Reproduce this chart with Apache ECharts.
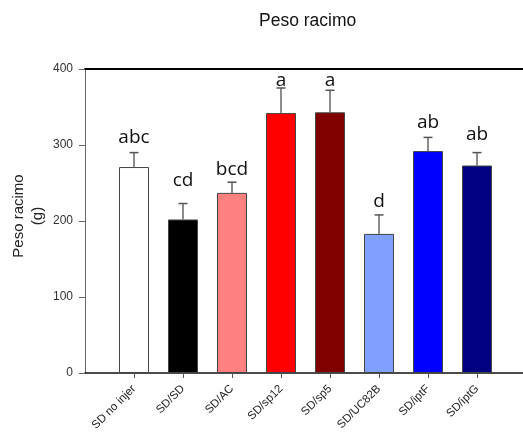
<!DOCTYPE html>
<html>
<head>
<meta charset="utf-8">
<script src="https://cdn.jsdelivr.net/npm/echarts@6/dist/echarts.min.js"></script>
<style>html,body{margin:0;padding:0;background:#fff}#c{width:523px;height:432px}</style>
</head>
<body>
<div id="c"></div>
<script>
var categories = ['SD no injer', 'SD/SD', 'SD/AC', 'SD/sp12', 'SD/sp5', 'SD/UC82B', 'SD/iptF', 'SD/iptG'];
var means = [271, 202, 237, 342, 343, 183, 292, 273];
var errTops = [290, 223, 251, 375, 372, 208, 310, 290];
var letters = ['abc', 'cd', 'bcd', 'a', 'a', 'd', 'ab', 'ab'];
var letterLevels = [310, 253, 268, 385, 385, 225, 330, 314];
var colors = ['#FFFFFF', '#000000', '#FF8080', '#FF0000', '#800000', '#80A0FF', '#0000FF', '#000080'];
var yTicks = [0, 100, 200, 300, 400];
var yTitle = 'Peso racimo\n(g)';

// padded category list: an empty slot before and after
var axisCats = [''].concat(categories, ['']);
var barData = ['-'].concat(means.map(function (v, i) {
  return { value: v, itemStyle: { color: colors[i] } };
}), ['-']);
var errData = errTops.map(function (t, i) { return [i + 1, means[i], t]; });
var labData = letterLevels.map(function (l, i) { return [i + 1, l, letters[i]]; });

var chart = echarts.init(document.getElementById('c'));
chart.setOption({
  animation: false,
  title: {
    text: 'Peso racimo', left: 254, top: 7,
    textStyle: { fontFamily: 'Arial', fontSize: 17.5, fontWeight: 'normal', color: '#111' }
  },
  graphic: [{
    type: 'text', x: 28, y: 216, rotation: Math.PI / 2,
    style: { text: yTitle, align: 'center', verticalAlign: 'middle',
      font: '15px Arial', fill: '#222', lineHeight: 19 }
  }],
  grid: { left: 85, top: 69, width: 441, height: 304, containLabel: false, outerBoundsMode: 'none' },
  xAxis: [{
    type: 'category', data: axisCats, boundaryGap: false, position: 'bottom',
    axisLine: { lineStyle: { color: '#111', width: 1.5 } },
    axisTick: { show: true, inside: false, length: 5, lineStyle: { color: '#555' },
      interval: function (idx) { return idx >= 1 && idx <= categories.length; } },
    axisLabel: { rotate: 45, interval: 0, margin: 14, fontFamily: 'Arial', fontSize: 11.5, color: '#222' },
    splitLine: { show: false }
  }, {
    type: 'category', data: axisCats, boundaryGap: false, position: 'top',
    axisLine: { lineStyle: { color: '#000', width: 2 } },
    axisTick: { show: false }, axisLabel: { show: false }, splitLine: { show: false }
  }],
  yAxis: {
    type: 'value', min: yTicks[0], max: yTicks[yTicks.length - 1], interval: 100,
    axisLine: { show: true, lineStyle: { color: '#666', width: 1 } },
    axisTick: { show: true, inside: false, length: 6, lineStyle: { color: '#666' } },
    axisLabel: { fontFamily: 'Arial', fontSize: 12, color: '#333', margin: 12 },
    splitLine: { show: false }
  },
  series: [{
    type: 'bar', data: barData, barWidth: 30, z: 2,
    itemStyle: { borderColor: '#444', borderWidth: 1 }
  }, {
    type: 'custom', data: errData, z: 3,
    renderItem: function (params, api) {
      var x = api.value(0);
      var base = api.coord([x, api.value(1)]);
      var top = api.coord([x, api.value(2)]);
      var hw = 4.5;
      return {
        type: 'group', children: [
          { type: 'line', shape: { x1: base[0], y1: base[1], x2: top[0], y2: top[1] }, style: { stroke: '#666', lineWidth: 1.5 } },
          { type: 'line', shape: { x1: top[0] - hw, y1: top[1], x2: top[0] + hw, y2: top[1] }, style: { stroke: '#555', lineWidth: 1.5 } }
        ]
      };
    }
  }, {
    type: 'custom', data: labData, z: 4,
    renderItem: function (params, api) {
      var p = api.coord([api.value(0), api.value(1)]);
      return {
        type: 'text',
        style: { x: p[0], y: p[1], text: letters[params.dataIndex], align: 'center', verticalAlign: 'middle',
          font: '19px "Open Sans"', fill: '#111' }
      };
    }
  }]
});
</script>
</body>
</html>
